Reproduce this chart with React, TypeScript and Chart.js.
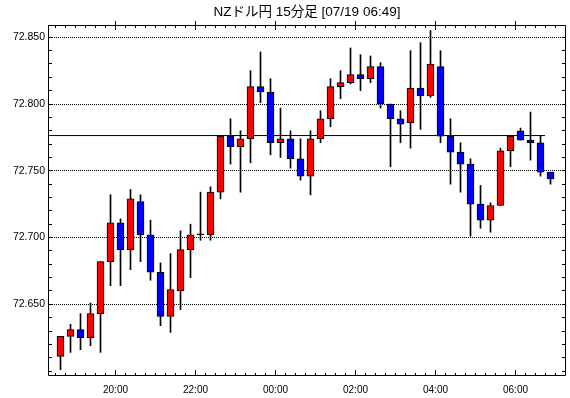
import React, { useEffect, useRef } from 'react';
import { Chart, registerables } from 'chart.js';

Chart.register(...registerables);

const title = 'NZドル円 15分足 [07/19 06:49]';

const times = [
  '18:30', '18:45', '19:00', '19:15', '19:30', '19:45',
  '20:00', '20:15', '20:30', '20:45', '21:00', '21:15', '21:30', '21:45',
  '22:00', '22:15', '22:30', '22:45', '23:00', '23:15', '23:30', '23:45',
  '00:00', '00:15', '00:30', '00:45', '01:00', '01:15', '01:30', '01:45',
  '02:00', '02:15', '02:30', '02:45', '03:00', '03:15', '03:30', '03:45',
  '04:00', '04:15', '04:30', '04:45', '05:00', '05:15', '05:30', '05:45',
  '06:00', '06:15', '06:30', '06:45',
];

const opens = [
  72.611, 72.626, 72.631, 72.625, 72.643, 72.682, 72.711, 72.691, 72.727, 72.702,
  72.674, 72.641, 72.660, 72.691, 72.702, 72.702, 72.734, 72.776, 72.768, 72.774,
  72.813, 72.809, 72.771, 72.774, 72.759, 72.746, 72.774, 72.789, 72.813, 72.816,
  72.822, 72.819, 72.828, 72.800, 72.789, 72.786, 72.812, 72.806, 72.828, 72.776,
  72.764, 72.755, 72.725, 72.713, 72.724, 72.765, 72.780, 72.773, 72.771, 72.749,
];

const closes = [
  72.626, 72.631, 72.625, 72.643, 72.682, 72.711, 72.691, 72.729, 72.702, 72.674,
  72.641, 72.661, 72.691, 72.702, 72.702, 72.734, 72.776, 72.768, 72.774, 72.813,
  72.809, 72.771, 72.774, 72.759, 72.746, 72.774, 72.789, 72.813, 72.816, 72.822,
  72.819, 72.828, 72.800, 72.789, 72.785, 72.812, 72.806, 72.830, 72.776, 72.764,
  72.755, 72.725, 72.713, 72.724, 72.765, 72.776, 72.773, 72.771, 72.749, 72.744,
];

const highs = [
  72.626, 72.635, 72.643, 72.651, 72.682, 72.732, 72.714, 72.736, 72.732, 72.713,
  72.681, 72.688, 72.705, 72.710, 72.734, 72.738, 72.776, 72.789, 72.780, 72.825,
  72.839, 72.819, 72.797, 72.780, 72.774, 72.780, 72.795, 72.819, 72.825, 72.842,
  72.837, 72.836, 72.831, 72.800, 72.795, 72.840, 72.846, 72.855, 72.840, 72.789,
  72.771, 72.759, 72.739, 72.726, 72.767, 72.776, 72.782, 72.794, 72.776, 72.749,
];

const lows = [
  72.601, 72.614, 72.616, 72.619, 72.614, 72.664, 72.664, 72.676, 72.682, 72.668,
  72.634, 72.629, 72.646, 72.670, 72.698, 72.698, 72.729, 72.755, 72.734, 72.756,
  72.801, 72.762, 72.760, 72.752, 72.743, 72.732, 72.771, 72.783, 72.804, 72.815,
  72.810, 72.816, 72.797, 72.753, 72.771, 72.767, 72.781, 72.805, 72.771, 72.740,
  72.734, 72.701, 72.707, 72.704, 72.724, 72.753, 72.773, 72.758, 72.746, 72.740,
];

const yTickValues = [72.65, 72.7, 72.75, 72.8, 72.85];
const xTickLabels = ['20:00', '22:00', '00:00', '02:00', '04:00', '06:00'];

const refLineValue = 72.7764;
const refLineEnd = 48.45;

const yMin = 72.5963;
const yMax = 72.8592;
const xMin = -1.25;
const xMax = 50.55;

const FONT = '"Liberation Sans", "Noto Sans CJK JP", sans-serif';

const align = (p: number) => Math.round(p - 0.5) + 0.5;

const framePlugin = {
  id: 'frameTicks',
  afterDraw(chart: any) {
    const { ctx, chartArea: a } = chart;
    const xs = chart.scales.x;
    const ys = chart.scales.y;
    ctx.save();
    ctx.strokeStyle = '#000';
    ctx.lineWidth = 1;
    ctx.setLineDash([]);
    ctx.beginPath();
    ctx.rect(a.left + 0.5, a.top + 0.5, a.right - a.left - 1, a.bottom - a.top - 1);
    ctx.stroke();

    ctx.beginPath();
    const step = 0.01;
    for (let k = Math.ceil(ys.min / step); k * step <= ys.max; k++) {
      const py = align(ys.getPixelForValue(k * step));
      ctx.moveTo(a.left, py);
      ctx.lineTo(a.left + 4, py);
      ctx.moveTo(a.right, py);
      ctx.lineTo(a.right - 4, py);
    }
    for (let i = 0; i <= times.length; i++) {
      const b = i - 0.5;
      if (b < xs.min || b > xs.max) continue;
      const px = align(xs.getPixelForValue(b));
      const major = i < times.length && xTickLabels.includes(times[i]);
      ctx.moveTo(px, a.bottom);
      ctx.lineTo(px, a.bottom - (major ? 6 : 3));
      ctx.moveTo(px, a.top - (major ? 4 : 0));
      ctx.lineTo(px, a.top + (major ? 5 : 3));
    }
    ctx.stroke();
    ctx.restore();
  },
};

export default function App() {
  const ref = useRef<HTMLCanvasElement | null>(null);

  useEffect(() => {
    if (!ref.current) return;
    const bodyColors = opens.map((o, i) =>
      closes[i] > o ? '#ff0000' : closes[i] < o ? '#0000ff' : '#000000'
    );
    const majorValues = xTickLabels.map((l) => times.indexOf(l) - 0.5);

    const chart = new Chart(ref.current, {
      type: 'bar',
      data: {
        datasets: [
          {
            type: 'bar',
            label: 'body',
            data: times.map((_, i) => ({ x: i, y: [opens[i], closes[i]] })) as any,
            backgroundColor: bodyColors,
            borderColor: '#000',
            borderWidth: 1,
            borderSkipped: false,
            barThickness: 7,
            minBarLength: 1,
            grouped: false,
            order: 0,
          } as any,
          {
            type: 'bar',
            label: 'wick',
            data: times.map((_, i) => ({ x: i, y: [lows[i], highs[i]] })) as any,
            backgroundColor: '#000',
            borderWidth: 0,
            barThickness: 1,
            grouped: false,
            order: 1,
          } as any,
          {
            type: 'line',
            label: 'ref',
            data: [
              { x: xMin, y: refLineValue },
              { x: refLineEnd, y: refLineValue },
            ],
            borderColor: '#000',
            borderWidth: 1,
            pointRadius: 0,
            order: 2,
          } as any,
        ],
      },
      options: {
        animation: false,
        responsive: true,
        maintainAspectRatio: false,
        events: [],
        layout: { padding: { left: 0, right: 4, top: 0, bottom: 0 } },
        plugins: {
          legend: { display: false },
          tooltip: { enabled: false },
          title: {
            display: true,
            text: title,
            fullSize: false,
            color: '#000',
            font: { family: FONT, size: 13.5, weight: 'normal' },
            padding: { top: 4.5, bottom: 4.3 },
          },
        },
        scales: {
          x: {
            type: 'linear',
            min: xMin,
            max: xMax,
            offset: false,
            grid: { display: false, offset: false },
            border: { display: false },
            afterBuildTicks: (s: any) => {
              s.ticks = majorValues.map((v) => ({ value: v }));
            },
            afterFit: (s: any) => {
              s.height = 22;
            },
            ticks: {
              autoSkip: false,
              maxRotation: 0,
              color: '#000',
              padding: 0,
              font: { family: FONT, size: 10 },
              callback: (v: any) => {
                const idx = majorValues.findIndex((m) => Math.abs(m - Number(v)) < 1e-6);
                return idx >= 0 ? xTickLabels[idx] : '';
              },
            },
          },
          y: {
            type: 'linear',
            min: yMin,
            max: yMax,
            beginAtZero: false,
            grid: { color: '#000', lineWidth: 1, drawTicks: false },
            border: { display: false, dash: [1, 1] },
            afterBuildTicks: (s: any) => {
              s.ticks = yTickValues.map((v) => ({ value: v }));
            },
            afterFit: (s: any) => {
              s.width = 48;
            },
            ticks: {
              color: '#000',
              padding: 3,
              font: { family: FONT, size: 10.5 },
              callback: (v: any) => Number(v).toFixed(3),
            },
          },
        },
      } as any,
      plugins: [framePlugin],
    });
    return () => chart.destroy();
  }, []);

  return (
    <div style={{ position: 'absolute', left: 0, top: 0, width: 570, height: 398, background: '#fff' }}>
      <canvas ref={ref} />
    </div>
  );
}
